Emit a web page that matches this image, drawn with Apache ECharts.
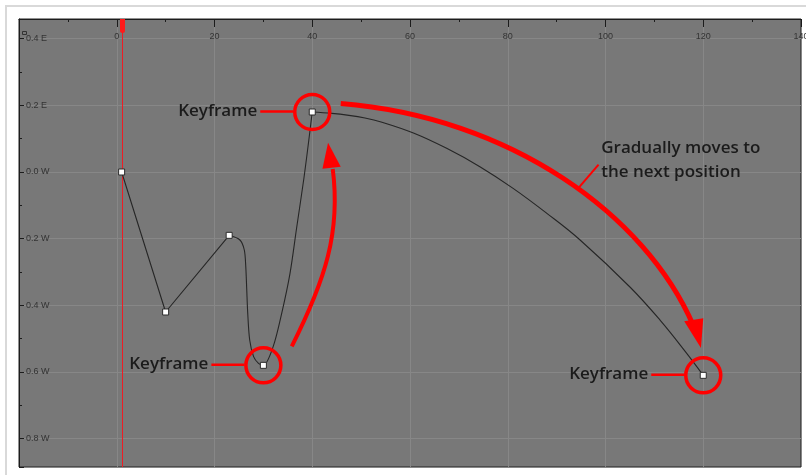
<!DOCTYPE html>
<html>
<head>
<meta charset="utf-8">
<script src="https://cdn.jsdelivr.net/npm/echarts@6/dist/echarts.min.js"></script>
<style>
  html, body { margin: 0; padding: 0; background: #fff; }
  #chart { width: 806px; height: 475px; }
</style>
</head>
<body>
<div id="chart"></div>
<script>
// keyframes (frame, value). E = positive, W = negative
var keyFrames = [1, 10, 23, 30, 40, 120];
var keyValues = [0, -0.42, -0.19, -0.58, 0.18, -0.61];
var circledKeys = [3, 4, 5];
var playheadFrame = 1;

// points read along the curve between keyframes
var curveK3toK5 = [
  [23, -0.19], [25.2, -0.204], [26.1, -0.234], [26.4, -0.284], [26.6, -0.354],
  [26.8, -0.424], [27.2, -0.504], [28.0, -0.554], [29.0, -0.574], [30, -0.58],
  [32.0, -0.524], [33.75, -0.424], [35.45, -0.304], [36.8, -0.168], [38.3, -0.018],
  [39.3, 0.096], [39.7, 0.144], [40, 0.18]
];
var curveK5toK6 = [
  [40, 0.18], [44.0, 0.176], [47.5, 0.170], [50.8, 0.162], [53.9, 0.151],
  [60.7, 0.117], [67.5, 0.071], [74.3, 0.016], [81.1, -0.049], [88.0, -0.124],
  [94.8, -0.204], [105.0, -0.345], [111.2, -0.445], [116.3, -0.538], [120, -0.61]
];

var labelText = 'Keyframe';
var noteLines = ['Gradually moves to', 'the next position'];

var keyPoints = keyFrames.map(function (f, i) { return [f, keyValues[i]]; });
var linearPart = keyPoints.slice(0, 3);
var circled = circledKeys.map(function (i) { return keyPoints[i]; });

var RED = '#ff0000';
var CURVE = '#262626';

var chart = echarts.init(document.getElementById('chart'));

chart.setOption({
  animation: false,
  backgroundColor: '#fff',
  textStyle: { fontFamily: '"Liberation Sans", Arial, sans-serif' },
  grid: {
    left: 19, right: 5, top: 19, bottom: 8,
    containLabel: false,
    outerBoundsMode: 'none',
    show: true,
    backgroundColor: '#787878',
    borderColor: '#222',
    borderWidth: 1
  },
  xAxis: {
    type: 'value',
    position: 'top',
    min: -20,
    max: 140,
    interval: 20,
    axisLine: { show: true, onZero: false, lineStyle: { color: '#1c1c1c', width: 1 } },
    axisTick: { show: true, inside: true, length: 8, lineStyle: { color: '#1c1c1c' } },
    minorTick: { show: true, splitNumber: 2, length: 3, lineStyle: { color: '#1c1c1c' } },
    splitLine: { show: true, lineStyle: { color: '#878787', width: 1 } },
    axisLabel: {
      inside: true,
      margin: 13,
      fontSize: 9,
      color: '#333',
      showMinLabel: false,
      formatter: function (v) { return v <= -20 ? '' : String(v); }
    }
  },
  yAxis: {
    type: 'value',
    position: 'left',
    min: -0.885,
    max: 0.459,
    splitNumber: 7,
    minInterval: 0.2,
    maxInterval: 0.2,
    axisLine: { show: true, onZero: false, lineStyle: { color: '#1c1c1c', width: 1 } },
    axisTick: { show: true, inside: true, length: 5, lineStyle: { color: '#1c1c1c' } },
    minorTick: { show: true, splitNumber: 2, length: 3, lineStyle: { color: '#1c1c1c' } },
    splitLine: { show: true, lineStyle: { color: '#878787', width: 1 } },
    axisLabel: {
      inside: true,
      margin: 7,
      fontSize: 9,
      color: '#333',
      showMinLabel: false,
      showMaxLabel: false,
      formatter: function (v) {
        return Math.abs(v).toFixed(1) + (v > 0.001 ? ' E' : ' W');
      }
    }
  },
  series: [
    {
      type: 'line',
      data: linearPart,
      symbol: 'none',
      lineStyle: { color: CURVE, width: 1.1 },
      z: 3
    },
    {
      type: 'line',
      data: curveK3toK5,
      symbol: 'none',
      smooth: 0.3,
      lineStyle: { color: CURVE, width: 1.1 },
      z: 3
    },
    {
      type: 'line',
      data: curveK5toK6,
      symbol: 'none',
      smooth: 0.4,
      lineStyle: { color: CURVE, width: 1.1 },
      z: 3
    },
    {
      type: 'scatter',
      data: keyPoints,
      symbol: 'rect',
      symbolSize: 6,
      itemStyle: { color: '#fff', borderColor: '#2b2b2b', borderWidth: 1, opacity: 1 },
      z: 5
    },
    {
      type: 'scatter',
      data: circled,
      symbol: 'circle',
      symbolSize: 35,
      itemStyle: { color: 'rgba(0,0,0,0)', borderColor: RED, borderWidth: 3.5, opacity: 1 },
      z: 6
    }
  ]
});

// annotations placed relative to the keyframes' pixel positions
function px(p) { return chart.convertToPixel({ gridIndex: 0 }, p); }
var k4 = px(keyPoints[3]), k5 = px(keyPoints[4]), k6 = px(keyPoints[5]);
var ph = px([playheadFrame, 0]);
var phX = Math.round(ph[0]) + 0.5;

var labelFont = '600 17px "Open Sans", sans-serif';
var g = [];

// outer frame
g.push({ type: 'rect', shape: { x: 6, y: 6, width: 900, height: 600 },
  style: { fill: 'none', stroke: '#d9d9d9', lineWidth: 2 }, z: 1 });
// playhead
g.push({ type: 'line', shape: { x1: phX, y1: 19, x2: phX, y2: 467 },
  style: { stroke: '#ee1c24', lineWidth: 1 }, z: 2 });
g.push({ type: 'rect', shape: { x: phX - 2.5, y: 19, width: 5, height: 14, r: [0, 0, 2.5, 2.5] },
  style: { fill: '#ff1a1a' }, z: 10 });
// small corner icon
g.push({ type: 'rect', shape: { x: 22.5, y: 31.5, width: 4, height: 3 },
  style: { fill: 'none', stroke: '#333', lineWidth: 1 }, z: 10 });

[k4, k5, k6].forEach(function (k) {
  g.push({ type: 'line', shape: { x1: k[0] - 52, y1: k[1] - 0.5, x2: k[0] - 19, y2: k[1] - 0.5 },
    style: { stroke: RED, lineWidth: 2.5 }, z: 10 });
  g.push({ type: 'text', x: k[0] - 55, y: k[1] - 1,
    style: { text: labelText, font: labelFont, fill: '#1b1b1b', align: 'right', verticalAlign: 'middle' }, z: 10 });
});

// arrow K4 -> K5
g.push({ type: 'bezierCurve', shape: {
    x1: k4[0] + 28.4, y1: k4[1] - 19,
    cpx1: k4[0] + 62.2, cpy1: k4[1] - 85.7,
    cpx2: k5[0] + 28.5, cpy2: k5[1] + 119.5,
    x2: k5[0] + 20.5, y2: k5[1] + 57 },
  style: { stroke: RED, lineWidth: 4, fill: 'none' }, z: 10 });
g.push({ type: 'polygon', shape: { points: [
    [k5[0] + 15.8, k5[1] + 30.8], [k5[0] + 10.2, k5[1] + 56.8], [k5[0] + 28.5, k5[1] + 54.8]] },
  style: { fill: RED }, z: 10 });

// arrow K5 -> K6
g.push({ type: 'bezierCurve', shape: {
    x1: k5[0] + 28.5, y1: k5[1] - 8.5,
    cpx1: k5[0] + 198.5, cpy1: k5[1] + 5.1,
    cpx2: k6[0] - 58, cpy2: k6[1] - 160.7,
    x2: k6[0] - 10, y2: k6[1] - 50 },
  style: { stroke: RED, lineWidth: 5, fill: 'none' }, z: 10 });
g.push({ type: 'polygon', shape: { points: [
    [k6[0] - 2.3, k6[1] - 27.4], [k6[0] - 19, k6[1] - 54.2], [k6[0], k6[1] - 57.2]] },
  style: { fill: RED }, z: 10 });

// note text and its pointer
g.push({ type: 'line', shape: { x1: k6[0] - 104.7, y1: k6[1] - 210.7, x2: k6[0] - 124.7, y2: k6[1] - 187.4 },
  style: { stroke: RED, lineWidth: 2 }, z: 10 });
noteLines.forEach(function (t, i) {
  g.push({ type: 'text', x: k6[0] - 102, y: k6[1] - 227.4 + i * 24,
    style: { text: t, font: labelFont, fill: '#1b1b1b', align: 'left', verticalAlign: 'middle' }, z: 10 });
});

chart.setOption({ graphic: g });
</script>
</body>
</html>
